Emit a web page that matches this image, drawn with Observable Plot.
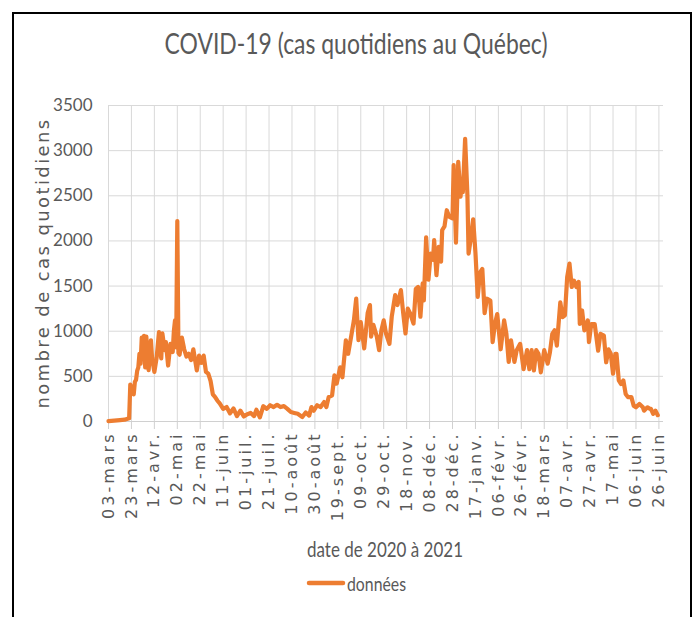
<!DOCTYPE html>
<html lang="fr">
<head>
<meta charset="utf-8">
<script src="https://cdn.jsdelivr.net/npm/d3@7"></script>
<script src="https://cdn.jsdelivr.net/npm/@observablehq/plot@0.6"></script>
<style>
  html, body { margin: 0; padding: 0; background: #fff; }
  #wrap { position: relative; width: 697px; height: 617px; overflow: hidden; }
  #frame { position: absolute; left: 12px; top: 12px; width: 680px; height: 640px; border: 2px solid #000; box-sizing: border-box; }
  #chart { position: absolute; left: 0; top: 0; }
</style>
</head>
<body>
<div id="wrap"><div id="frame"></div><div id="chart"></div></div>
<script>
// ---- Data ----
const dates = [
  "2020-03-03","2020-03-08","2020-03-13","2020-03-17","2020-03-21","2020-03-22","2020-03-23","2020-03-24","2020-03-25","2020-03-26",
  "2020-03-27","2020-03-28","2020-03-29","2020-03-30","2020-03-31","2020-04-01","2020-04-02","2020-04-03","2020-04-04","2020-04-05",
  "2020-04-07","2020-04-09","2020-04-10","2020-04-12","2020-04-14","2020-04-16","2020-04-17","2020-04-18","2020-04-19","2020-04-21",
  "2020-04-22","2020-04-24","2020-04-26","2020-04-28","2020-04-29","2020-04-30","2020-05-01","2020-05-02","2020-05-03","2020-05-04",
  "2020-05-06","2020-05-08","2020-05-10","2020-05-12","2020-05-14","2020-05-16","2020-05-19","2020-05-21","2020-05-23","2020-05-25",
  "2020-05-27","2020-05-29","2020-05-31","2020-06-02","2020-06-04","2020-06-06","2020-06-08","2020-06-11","2020-06-14","2020-06-17",
  "2020-06-20","2020-06-23","2020-06-26","2020-06-29","2020-07-02","2020-07-05","2020-07-08","2020-07-10","2020-07-13","2020-07-16",
  "2020-07-19","2020-07-22","2020-07-25","2020-07-28","2020-07-31","2020-08-03","2020-08-06","2020-08-09","2020-08-12","2020-08-15",
  "2020-08-19","2020-08-22","2020-08-25","2020-08-27","2020-08-29","2020-09-01","2020-09-04","2020-09-07","2020-09-09","2020-09-11",
  "2020-09-14","2020-09-16","2020-09-18","2020-09-21","2020-09-23","2020-09-26","2020-09-28","2020-10-01","2020-10-03","2020-10-05",
  "2020-10-07","2020-10-09","2020-10-12","2020-10-15","2020-10-17","2020-10-18","2020-10-20","2020-10-23","2020-10-25","2020-10-27",
  "2020-10-29","2020-10-31","2020-11-03","2020-11-05","2020-11-08","2020-11-10","2020-11-13","2020-11-15","2020-11-17","2020-11-19",
  "2020-11-21","2020-11-24","2020-11-26","2020-11-28","2020-11-30","2020-12-02","2020-12-03","2020-12-05","2020-12-07","2020-12-09",
  "2020-12-11","2020-12-12","2020-12-14","2020-12-16","2020-12-18","2020-12-19","2020-12-21","2020-12-23","2020-12-25","2020-12-28",
  "2020-12-29","2020-12-31","2021-01-02","2021-01-04","2021-01-05","2021-01-06","2021-01-08","2021-01-10","2021-01-11","2021-01-13",
  "2021-01-15","2021-01-17","2021-01-19","2021-01-21","2021-01-23","2021-01-25","2021-01-27","2021-01-30","2021-02-01","2021-02-03",
  "2021-02-05","2021-02-08","2021-02-11","2021-02-13","2021-02-15","2021-02-17","2021-02-20","2021-02-22","2021-02-25","2021-02-28",
  "2021-03-03","2021-03-05","2021-03-07","2021-03-09","2021-03-11","2021-03-13","2021-03-15","2021-03-18","2021-03-21","2021-03-23",
  "2021-03-25","2021-03-27","2021-03-29","2021-04-01","2021-04-03","2021-04-05","2021-04-07","2021-04-09","2021-04-11","2021-04-13",
  "2021-04-15","2021-04-17","2021-04-18","2021-04-20","2021-04-22","2021-04-25","2021-04-26","2021-04-28","2021-05-01","2021-05-04",
  "2021-05-06","2021-05-09","2021-05-11","2021-05-13","2021-05-15","2021-05-17","2021-05-19","2021-05-20","2021-05-22","2021-05-24",
  "2021-05-26","2021-05-28","2021-05-30","2021-06-02","2021-06-04","2021-06-06","2021-06-09","2021-06-12","2021-06-13","2021-06-16",
  "2021-06-18","2021-06-19","2021-06-21","2021-06-23","2021-06-25"
];
const cas = [
  5,10,15,20,35,410,330,380,300,440,
  460,560,600,750,640,930,700,950,600,940,
  570,900,700,550,710,990,800,700,975,790,
  880,620,860,770,1000,1120,820,2220,760,740,
  930,800,720,750,680,800,565,730,650,730,
  550,530,450,300,270,230,200,140,160,90,
  145,60,120,55,80,95,60,130,45,170,
  140,180,160,185,160,170,140,105,95,85,
  50,100,65,160,120,180,160,215,160,270,
  290,510,420,600,490,900,750,970,1120,1360,
  900,1100,810,1200,1290,940,1070,940,790,1010,
  1120,975,860,1160,1400,1290,1455,1200,975,1250,
  1200,1085,1470,1490,1160,1530,1340,2040,1570,1860,
  1790,2010,1620,1935,1770,2120,2160,2340,2270,2250,
  2840,1980,2875,2490,2650,2540,3130,2510,1860,2030,
  2240,1870,1380,1650,1690,1200,1360,1340,880,1080,
  1190,800,1120,970,660,900,660,790,860,580,
  790,580,790,565,790,750,545,790,640,770,
  970,1010,840,1320,1155,1175,1600,1750,1490,1560,
  1490,1545,1080,1230,1010,1120,880,1080,1080,785,
  970,950,656,800,750,530,750,750,455,415,
  455,305,270,270,175,157,195,157,120,157,
  140,140,85,120,70
];
const tickDates = [
  "2020-03-03","2020-03-23","2020-04-12","2020-05-02","2020-05-22","2020-06-11","2020-07-01","2020-07-21",
  "2020-08-10","2020-08-30","2020-09-19","2020-10-09","2020-10-29","2020-11-18","2020-12-08","2020-12-28",
  "2021-01-17","2021-02-06","2021-02-26","2021-03-18","2021-04-07","2021-04-27","2021-05-17","2021-06-06","2021-06-26"
];
const tickLabels = [
  "03-mars","23-mars","12-avr.","02-mai","22-mai","11-juin","01-juil.","21-juil.",
  "10-août","30-août","19-sept.","09-oct.","29-oct.","18-nov.","08-déc.","28-déc.",
  "17-janv.","06-févr.","26-févr.","18-mars","07-avr.","27-avr.","17-mai","06-juin","26-juin"
];
const yTicks = [0, 500, 1000, 1500, 2000, 2500, 3000, 3500];
const xDomain = ["2020-03-03", "2021-06-30"];
const titre = "COVID-19 (cas quotidiens au Québec)";
const titreY = "nombre de cas quotidiens";
const titreX = "date de 2020 à 2021";
const serie = "données";

// ---- Build ----
const data = dates.map((d, i) => ({date: new Date(d), cas: cas[i]}));
const ticks = tickDates.map(d => new Date(d));
const labelOf = new Map(ticks.map((d, i) => [+d, tickLabels[i]]));
const soft = "Lato, 'Open Sans', sans-serif";
const grey = "#595959";
const orange = "#ed7d31";

const chart = Plot.plot({
  width: 697,
  height: 617,
  marginLeft: 108,
  marginRight: 34,
  marginTop: 105,
  marginBottom: 196,
  style: {background: "transparent", overflow: "visible"},
  x: {type: "utc", domain: xDomain.map(d => new Date(d))},
  y: {domain: [0, 3500]},
  marks: [
    Plot.gridX(ticks, {stroke: "#d9d9d9", strokeOpacity: 1, strokeWidth: 1}),
    Plot.gridY(yTicks, {stroke: "#d9d9d9", strokeOpacity: 1, strokeWidth: 1}),
    Plot.ruleY([0], {stroke: "#d0d0d0", strokeWidth: 1.2}),
    Plot.axisX(ticks, {
      tickFormat: d => labelOf.get(+d),
      tickRotate: -90, tickSize: 8, tickPadding: 2,
      stroke: "#d0d0d0", fill: grey,
      fontSize: 16, fontFamily: "'DejaVu Sans', sans-serif",
      label: null
    }),
    Plot.axisY(yTicks, {
      tickSize: 0, tickPadding: 16, fill: grey, tickFormat: d3.format("d"),
      fontSize: 17, fontFamily: soft, label: null
    }),
    Plot.line(data, {x: "date", y: "cas", stroke: orange, strokeWidth: 4.2, strokeLinejoin: "round", strokeLinecap: "round"})
  ]
});

const svg = d3.select(chart);
svg.selectAll('g[aria-label="x-axis tick label"]').attr("letter-spacing", "3px");

svg.append("text")
  .attr("x", 356).attr("y", 54)
  .attr("text-anchor", "middle")
  .attr("font-family", soft).attr("font-size", 28).attr("font-weight", 400)
  .attr("textLength", 383).attr("lengthAdjust", "spacingAndGlyphs")
  .attr("fill", grey).text(titre);

svg.append("text")
  .attr("transform", "translate(49,263) rotate(-90)")
  .attr("text-anchor", "middle")
  .attr("font-family", "'DejaVu Sans', sans-serif").attr("font-size", 18)
  .attr("letter-spacing", "2.4px")
  .attr("fill", grey).text(titreY);

svg.append("text")
  .attr("x", 385).attr("y", 557)
  .attr("text-anchor", "middle")
  .attr("font-family", soft).attr("font-size", 22).attr("font-weight", 400)
  .attr("textLength", 156).attr("lengthAdjust", "spacingAndGlyphs")
  .attr("fill", grey).text(titreX);

svg.append("line")
  .attr("x1", 309).attr("x2", 343).attr("y1", 583).attr("y2", 583)
  .attr("stroke", orange).attr("stroke-width", 4.5).attr("stroke-linecap", "round");

svg.append("text")
  .attr("x", 347).attr("y", 591)
  .attr("text-anchor", "start")
  .attr("font-family", soft).attr("font-size", 20).attr("font-weight", 400)
  .attr("textLength", 59).attr("lengthAdjust", "spacingAndGlyphs")
  .attr("fill", grey).text(serie);

document.getElementById("chart").appendChild(chart);
</script>
</body>
</html>
